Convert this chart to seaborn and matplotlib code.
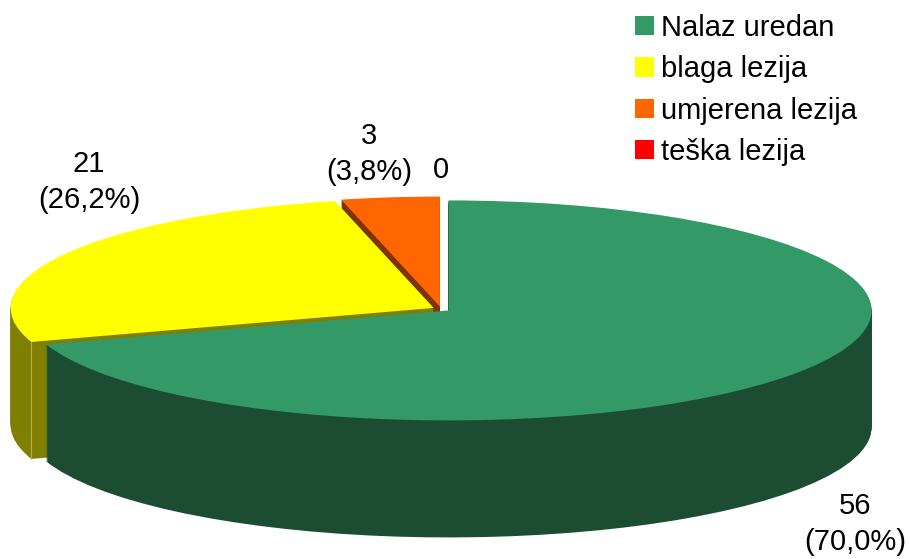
import numpy as np
from matplotlib import pyplot as plt
import seaborn as sns

categories = ['Nalaz uredan', 'blaga lezija', 'umjerena lezija', 'teška lezija']
counts = [56, 21, 3, 0]
top_colors = ['#339966', '#FFFF00', '#FF6600', '#FF0000']
wall_colors = ['#1C4D33', '#808000', '#803300', '#800000']

sns.set_theme(style='white')
plt.rcParams['font.family'] = ['Liberation Sans', 'DejaVu Sans']

W, H = 910, 559
fig = plt.figure(figsize=(W / 100, H / 100), dpi=100)
ax = fig.add_axes([0, 0, 1, 1])

# pixels per data unit, the pie is just squashed to look tilted
rx, ry = 423, 110
cx, cy = 441, 309
depth = 117 / ry
explode = [0.022, 0.02, 0.022, 0.02]
# paint order: orange at the back, then yellow, then green in front
order = {2: 0, 3: 1, 1: 2, 0: 3}

for d in np.linspace(depth, 0, 118):
    colors = top_colors if d == 0 else wall_colors
    wedges, _ = ax.pie(counts, colors=colors, explode=explode, startangle=90,
                       counterclock=False, center=(0, -d), radius=1,
                       wedgeprops={'linewidth': 0})
    for i, w in enumerate(wedges):
        w.set_zorder(order[i] + 1 - d / depth / 2)

ax.set_aspect('auto')
ax.set_xlim(-cx / rx, (W - cx) / rx)
ax.set_ylim(-(H - cy) / ry, cy / ry)
ax.axis('off')

# seam between the rounded side and the cut face of the yellow slice
yellow = wedges[1]
ang = np.deg2rad(yellow.theta2)
sx = yellow.center[0] + np.cos(ang)
sy = yellow.center[1] + np.sin(ang)
ax.plot([sx, sx], [sy, sy - depth], color='#B3B34D', lw=0.8, zorder=3)

total = sum(counts)


def pct(v):
    return f'{v / total * 100:.1f}'.replace('.', ',') + '%'


label_pos = [(855, 524), (89, 182), (369, 154)]
for v, (px, py) in zip(counts[:3], label_pos):
    ax.text(px / W, 1 - py / H, f'{v}\n({pct(v)})', transform=ax.transAxes,
            ha='center', va='center', fontsize=21, color='black',
            linespacing=1.38, zorder=10)
ax.text(441 / W, 1 - 170 / H, str(counts[3]), transform=ax.transAxes,
        ha='center', va='center', fontsize=21, color='black', zorder=10)

ax.legend(wedges, categories, loc='upper left', bbox_to_anchor=(626 / W, 1 - 5 / H),
          frameon=False, fontsize=21, labelcolor='black', handlelength=0.65, handleheight=0.65,
          handletextpad=0.24, labelspacing=0.46, borderpad=0.3, borderaxespad=0)

plt.savefig('out.png', dpi=100)
